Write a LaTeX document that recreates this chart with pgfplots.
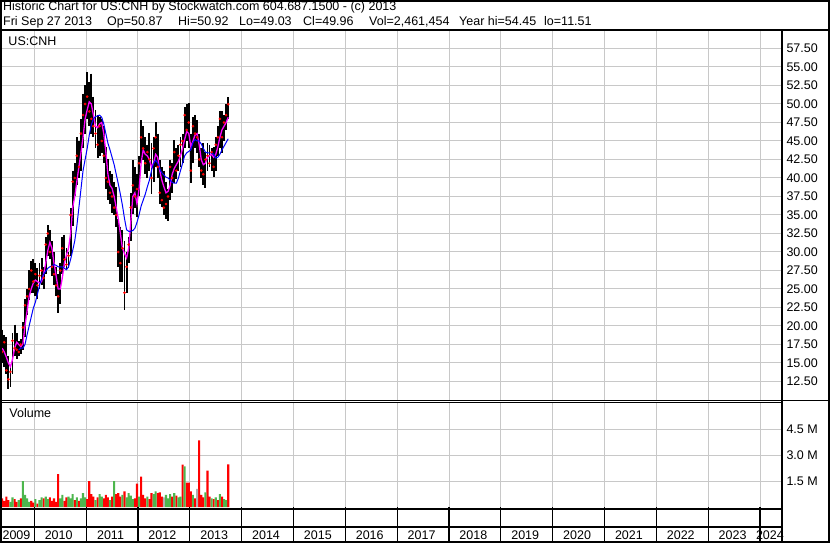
\documentclass[border=0pt]{standalone}
\usepackage{pgfplots}
\pgfplotsset{compat=1.18}
\usepackage{pgfplotstable}
\usepackage{fontspec}
\setmainfont{Liberation Sans}
\definecolor{gridgray}{RGB}{200,200,200}
\definecolor{volgreen}{RGB}{77,182,77}
\definecolor{volgray}{RGB}{176,176,176}
\definecolor{mamag}{RGB}{255,0,255}
\definecolor{mablue}{RGB}{0,0,255}

% t = decimal year, hi/lo/cl = price, m1 = short MA, m2 = long MA
\pgfplotstableread{
t hi lo cl m1 m2
2009.34 20.4 15.8 17.5 nan nan
2009.38 19.5 15.0 16.5 17.0 nan
2009.42 18.8 14.5 17.8 16.5 nan
2009.46 18.5 13.5 14.0 15.8 nan
2009.50 16.0 11.5 12.8 15.0 nan
2009.54 14.5 11.8 13.8 14.5 nan
2009.58 19.0 13.5 18.0 15.5 nan
2009.62 20.2 16.0 17.0 17.0 nan
2009.66 19.0 15.5 16.8 17.8 nan
2009.70 18.0 16.0 16.5 17.5 16.8
2009.74 18.2 16.2 17.5 17.2 17.0
2009.78 20.5 16.8 19.8 17.6 17.0
2009.82 23.6 18.5 22.8 20.0 17.5
2009.86 25.0 21.5 24.0 22.0 18.8
2009.90 27.5 23.5 25.0 24.0 20.0
2009.94 28.8 24.5 27.5 25.0 21.2
2009.98 29.0 24.5 26.0 25.8 22.4
2010.02 28.5 24.0 27.0 26.2 23.2
2010.06 27.8 23.6 25.5 26.0 24.3
2010.10 28.5 25.0 26.8 25.8 25.5
2010.14 29.2 25.5 27.5 26.0 26.4
2010.18 28.0 25.0 26.5 27.0 27.0
2010.22 32.0 27.0 31.0 28.5 27.4
2010.26 33.6 29.5 32.5 30.2 27.8
2010.30 33.0 29.0 30.0 31.3 28.0
2010.34 31.5 26.8 28.0 30.5 28.1
2010.38 30.0 25.5 27.0 28.5 28.3
2010.42 28.0 24.0 25.5 26.8 28.2
2010.46 27.0 21.7 24.0 25.0 28.0
2010.50 28.5 23.0 27.5 25.0 28.0
2010.54 32.0 27.0 30.5 26.5 28.0
2010.58 32.3 28.0 29.0 28.5 27.8
2010.62 30.5 27.5 28.3 29.6 27.6
2010.66 30.0 27.8 29.5 30.5 28.0
2010.70 36.0 29.5 35.0 32.5 29.0
2010.74 41.0 33.5 39.5 36.0 30.2
2010.78 42.0 37.5 40.0 37.5 31.5
2010.82 45.5 39.0 43.0 39.5 33.5
2010.86 45.0 40.0 41.5 41.5 36.0
2010.90 48.0 41.0 46.0 43.4 38.5
2010.94 51.4 44.0 48.5 45.5 41.0
2010.98 52.5 46.0 50.0 48.0 42.5
2011.02 54.3 48.0 51.0 49.2 44.0
2011.06 53.0 47.0 49.0 50.3 45.8
2011.10 54.1 46.0 48.0 50.0 47.2
2011.14 51.0 45.5 47.0 48.5 48.0
2011.18 49.2 44.0 46.0 47.0 48.3
2011.22 48.5 42.7 44.5 46.8 48.4
2011.26 48.2 43.0 47.0 47.3 48.5
2011.30 48.0 43.4 45.0 47.5 48.2
2011.34 47.0 42.0 43.0 46.0 47.3
2011.38 44.2 38.5 40.0 43.5 46.0
2011.42 42.5 37.0 39.5 40.5 44.7
2011.46 41.0 36.5 38.0 39.0 43.8
2011.50 40.5 35.3 37.5 38.6 42.8
2011.54 39.5 35.0 36.0 37.5 41.8
2011.58 38.8 33.4 35.0 36.0 40.5
2011.62 34.5 28.0 30.0 34.5 39.2
2011.66 33.4 25.9 28.5 32.5 37.8
2011.70 33.0 26.0 30.5 30.5 36.3
2011.74 31.5 22.2 24.5 29.8 34.5
2011.78 30.0 24.5 28.0 29.2 33.0
2011.82 32.0 28.5 31.0 30.5 32.8
2011.86 38.0 31.5 36.0 34.0 32.8
2011.90 42.4 35.2 39.0 37.5 32.9
2011.94 41.5 36.0 37.5 38.0 33.2
2011.98 40.5 34.7 38.5 36.5 34.0
2012.02 43.0 37.5 42.0 38.5 35.0
2012.06 47.8 42.0 45.5 42.0 36.2
2012.10 47.0 42.4 44.0 43.8 37.0
2012.14 45.5 40.6 42.0 43.2 37.8
2012.18 44.5 40.0 43.5 43.0 38.8
2012.22 46.1 41.0 42.5 42.5 39.7
2012.26 44.7 37.9 40.0 41.5 41.0
2012.30 45.5 39.5 44.0 42.0 42.0
2012.34 47.5 41.5 45.5 43.2 42.4
2012.38 46.0 40.0 41.5 42.8 42.0
2012.42 42.4 36.5 38.0 41.0 41.2
2012.46 41.5 36.1 37.0 39.7 40.7
2012.50 41.0 35.0 36.0 38.8 40.4
2012.54 39.5 34.5 36.5 38.0 40.1
2012.58 38.5 34.2 37.5 38.2 40.0
2012.62 42.4 37.0 41.5 39.0 39.7
2012.66 42.0 38.0 40.0 40.5 39.4
2012.70 45.1 39.3 43.5 41.3 39.3
2012.74 44.0 39.8 41.0 41.8 39.3
2012.78 44.5 41.0 43.0 42.3 40.0
2012.82 45.5 41.5 44.5 43.0 41.0
2012.86 46.0 42.0 45.0 44.0 42.0
2012.90 49.6 44.0 48.5 45.2 43.0
2012.94 50.0 45.0 46.5 46.3 43.4
2012.98 50.1 44.0 47.5 46.0 43.6
2013.02 46.0 39.3 41.0 44.2 43.8
2013.06 48.2 42.0 47.0 45.0 44.8
2013.10 48.5 44.0 46.0 45.8 45.2
2013.14 47.8 43.4 45.5 46.0 45.0
2013.18 46.0 41.5 42.5 44.5 45.0
2013.22 44.0 40.0 41.0 42.5 44.6
2013.26 44.7 39.0 40.5 41.8 44.0
2013.30 43.5 38.6 42.5 42.0 43.5
2013.34 44.7 41.0 43.0 42.8 43.4
2013.38 44.5 41.5 42.0 43.0 43.4
2013.42 44.0 41.0 43.5 43.2 43.4
2013.46 44.2 40.1 41.5 42.8 43.2
2013.50 45.5 41.0 44.5 43.2 42.7
2013.54 47.0 43.0 45.5 44.2 42.8
2013.58 49.1 44.0 48.0 45.5 43.2
2013.62 49.0 43.4 45.5 46.5 43.8
2013.66 48.5 45.0 47.5 47.0 44.3
2013.70 50.0 46.5 48.5 47.5 44.8
2013.74 50.92 48.0 49.96 48.2 45.3
}\price

% volume in millions: r = down day, g = up day, y = unchanged
\pgfplotstableread{
t r g y
2009.34 nan 0.9 nan
2009.38 0.5 nan nan
2009.42 0.35 nan nan
2009.46 0.6 nan nan
2009.50 0.4 nan nan
2009.54 nan 0.3 nan
2009.58 nan 0.55 nan
2009.62 0.45 nan nan
2009.66 0.3 nan nan
2009.70 nan 0.4 nan
2009.74 0.5 nan nan
2009.78 nan 1.5 nan
2009.82 nan 0.7 nan
2009.86 nan 0.5 nan
2009.90 nan 0.3 nan
2009.94 0.35 nan nan
2009.98 0.25 nan nan
2010.02 nan 0.45 nan
2010.06 0.2 nan nan
2010.10 nan 0.4 nan
2010.14 nan 0.55 nan
2010.18 0.5 nan nan
2010.22 nan 0.6 nan
2010.26 nan 0.45 nan
2010.30 0.55 nan nan
2010.34 0.35 nan nan
2010.38 0.5 nan nan
2010.42 0.3 nan nan
2010.46 1.9 nan nan
2010.50 nan 0.5 nan
2010.54 nan 0.7 nan
2010.58 0.35 nan nan
2010.62 0.55 nan nan
2010.66 nan 0.6 nan
2010.70 nan 0.5 nan
2010.74 nan 0.75 nan
2010.78 0.4 nan nan
2010.82 nan 0.55 nan
2010.86 0.35 nan nan
2010.90 nan 0.5 nan
2010.94 nan 0.8 nan
2010.98 nan 0.55 nan
2011.02 0.45 nan nan
2011.06 1.5 nan nan
2011.10 0.75 nan nan
2011.14 0.6 nan nan
2011.18 nan 0.4 nan
2011.22 0.55 nan nan
2011.26 nan 0.75 nan
2011.30 nan 0.6 nan
2011.34 0.5 nan nan
2011.38 0.7 nan nan
2011.42 0.55 nan nan
2011.46 nan 0.4 nan
2011.50 0.6 nan nan
2011.54 nan 1.5 nan
2011.58 0.75 nan nan
2011.62 0.8 nan nan
2011.66 0.6 nan nan
2011.70 nan 0.7 nan
2011.74 0.9 nan nan
2011.78 nan 0.55 nan
2011.82 nan 0.8 nan
2011.86 nan 0.65 nan
2011.90 nan 0.45 nan
2011.94 0.5 nan nan
2011.98 1.35 nan nan
2012.02 nan 0.6 nan
2012.06 1.75 nan nan
2012.10 0.7 nan nan
2012.14 0.5 nan nan
2012.18 nan 0.6 nan
2012.22 0.45 nan nan
2012.26 0.8 nan nan
2012.30 nan 0.75 nan
2012.34 nan 0.9 nan
2012.38 0.8 nan nan
2012.42 0.85 nan nan
2012.46 0.6 nan nan
2012.50 nan nan 0.55
2012.54 nan 0.7 nan
2012.58 nan 0.5 nan
2012.62 nan 0.75 nan
2012.66 0.6 nan nan
2012.70 nan 0.8 nan
2012.74 0.65 nan nan
2012.78 nan 0.55 nan
2012.82 nan 0.6 nan
2012.86 2.45 nan nan
2012.90 nan 2.35 nan
2012.94 1.4 nan nan
2012.98 1.4 nan nan
2013.02 0.9 nan nan
2013.06 nan 0.7 nan
2013.10 0.5 nan nan
2013.14 nan nan 1.05
2013.18 3.85 nan nan
2013.22 0.7 nan nan
2013.26 0.55 nan nan
2013.30 nan 0.85 nan
2013.34 2.1 nan nan
2013.38 0.6 nan nan
2013.42 nan 0.5 nan
2013.46 0.45 nan nan
2013.50 nan 0.55 nan
2013.54 0.4 nan nan
2013.58 nan 0.75 nan
2013.62 0.6 nan nan
2013.66 nan 0.45 nan
2013.70 nan 0.4 nan
2013.74 2.46 nan nan
}\vol

\pgfplotsset{
  panel/.style={
    scale only axis, width=782bp,
    xmin=2009.338, xmax=2024.423,
    axis line style={draw=none},
    major tick length=0pt,
    xtick={2010,2011,2012,2013,2014,2015,2016,2017,2018,2019,2020,2021,2022,2023,2024},
    xticklabels={},
    grid=major,
    grid style={gridgray, line width=1bp},
    yticklabel pos=right,
    tick label style={font=\fontsize{12.5bp}{14bp}\selectfont},
    yticklabel style={anchor=west, xshift=1bp},
    /pgf/number format/assume math mode=true,
  }
}

\begin{document}
\begin{tikzpicture}[font=\fontsize{12.5bp}{14bp}\selectfont]
\path[use as bounding box, fill=white] (0bp,0bp) rectangle (830bp,543bp);

% price panel
\begin{axis}[panel, at={(0bp,143bp)}, anchor=south west, height=370bp,
  ymin=10, ymax=60,
  ytick={12.5,15,17.5,20,22.5,25,27.5,30,32.5,35,37.5,40,42.5,45,47.5,50,52.5,55,57.5},
  yticklabel style={/pgf/number format/.cd, fixed, fixed zerofill, precision=2}]
\addplot[draw=none, mark=none, forget plot,
  error bars/.cd, y dir=minus, y explicit, error mark=none,
  error bar style={draw=black, solid, line width=1.9bp}]
  table[x=t, y=hi, y error minus expr=\thisrow{hi}-\thisrow{lo}] {\price};
\addplot[red, only marks, mark=*, mark size=1.1bp, mark options={solid, fill=red, draw=red}] table[x=t, y=cl] {\price};
\addplot[mamag, mark=none, line width=1.3bp, unbounded coords=jump] table[x=t, y=m1] {\price};
\addplot[mablue, mark=none, line width=1bp, unbounded coords=jump] table[x=t, y=m2] {\price};
\end{axis}

% volume panel
\begin{axis}[panel, at={(0bp,36bp)}, anchor=south west, height=104bp,
  ymin=0, ymax=6, clip=false,
  ytick={1.5,3,4.5}, yticklabels={1.5 M,3.0 M,4.5 M}]
\addplot[ybar, bar width=2.1bp, bar shift=0pt, fill=red, draw=none] table[x=t, y=r] {\vol};
\addplot[ybar, bar width=2.1bp, bar shift=0pt, fill=volgreen, draw=none] table[x=t, y=g] {\vol};
\addplot[ybar, bar width=2.1bp, bar shift=0pt, fill=volgray, draw=none] table[x=t, y=y] {\vol};
\pgfplotsinvokeforeach{2010,2011,2012,2013,2014,2015,2016,2017,2018,2019,2020,2021,2022,2023,2024}{
  \draw[black, line width=1.2bp] (axis cs:#1,0) -- ++(0bp,-36bp);
}
\node[anchor=base] at ([yshift=-32.3bp]axis cs:2009.656,0) {2009};
\node[anchor=base] at ([yshift=-32.3bp]axis cs:2010.47,0) {2010};
\node[anchor=base] at ([yshift=-32.3bp]axis cs:2011.47,0) {2011};
\node[anchor=base] at ([yshift=-32.3bp]axis cs:2012.47,0) {2012};
\node[anchor=base] at ([yshift=-32.3bp]axis cs:2013.47,0) {2013};
\node[anchor=base] at ([yshift=-32.3bp]axis cs:2014.47,0) {2014};
\node[anchor=base] at ([yshift=-32.3bp]axis cs:2015.47,0) {2015};
\node[anchor=base] at ([yshift=-32.3bp]axis cs:2016.47,0) {2016};
\node[anchor=base] at ([yshift=-32.3bp]axis cs:2017.47,0) {2017};
\node[anchor=base] at ([yshift=-32.3bp]axis cs:2018.47,0) {2018};
\node[anchor=base] at ([yshift=-32.3bp]axis cs:2019.47,0) {2019};
\node[anchor=base] at ([yshift=-32.3bp]axis cs:2020.47,0) {2020};
\node[anchor=base] at ([yshift=-32.3bp]axis cs:2021.47,0) {2021};
\node[anchor=base] at ([yshift=-32.3bp]axis cs:2022.47,0) {2022};
\node[anchor=base] at ([yshift=-32.3bp]axis cs:2023.47,0) {2023};
\node[anchor=base] at ([yshift=-32.3bp]axis cs:2024.19,0) {2024};
\end{axis}

% frame
\draw[line width=2bp] (1bp,1bp) rectangle (829bp,542bp);
\draw[line width=2bp] (0bp,512.5bp) -- (830bp,512.5bp);
\draw[line width=2bp] (782bp,0bp) -- (782bp,512.5bp);
\draw[line width=1bp] (0bp,142.3bp) -- (830bp,142.3bp);
\draw[line width=1bp] (0bp,140.3bp) -- (782bp,140.3bp);
\draw[line width=2bp] (0bp,34bp) -- (782bp,34bp);
\draw[line width=2bp] (0bp,16bp) -- (782bp,16bp);

% header texts
\node[anchor=base west, inner sep=0pt] at (3bp,532.5bp) {Historic Chart for US:CNH by Stockwatch.com 604.687.1500 - (c) 2013};
\node[anchor=base west, inner sep=0pt] at (3bp,517.5bp) {Fri Sep 27 2013};
\node[anchor=base west, inner sep=0pt] at (107bp,517.5bp) {Op=50.87};
\node[anchor=base west, inner sep=0pt] at (178bp,517.5bp) {Hi=50.92};
\node[anchor=base west, inner sep=0pt] at (239bp,517.5bp) {Lo=49.03};
\node[anchor=base west, inner sep=0pt] at (303bp,517.5bp) {Cl=49.96};
\node[anchor=base west, inner sep=0pt] at (369bp,517.5bp) {Vol=2,461,454};
\node[anchor=base west, inner sep=0pt] at (459bp,517.5bp) {Year hi=54.45};
\node[anchor=base west, inner sep=0pt] at (544bp,517.5bp) {lo=11.51};
\node[anchor=base west, inner sep=0pt] at (8.3bp,497.3bp) {US:CNH};
\node[anchor=base west, inner sep=0pt] at (9.3bp,125.7bp) {Volume};
\end{tikzpicture}
\end{document}
